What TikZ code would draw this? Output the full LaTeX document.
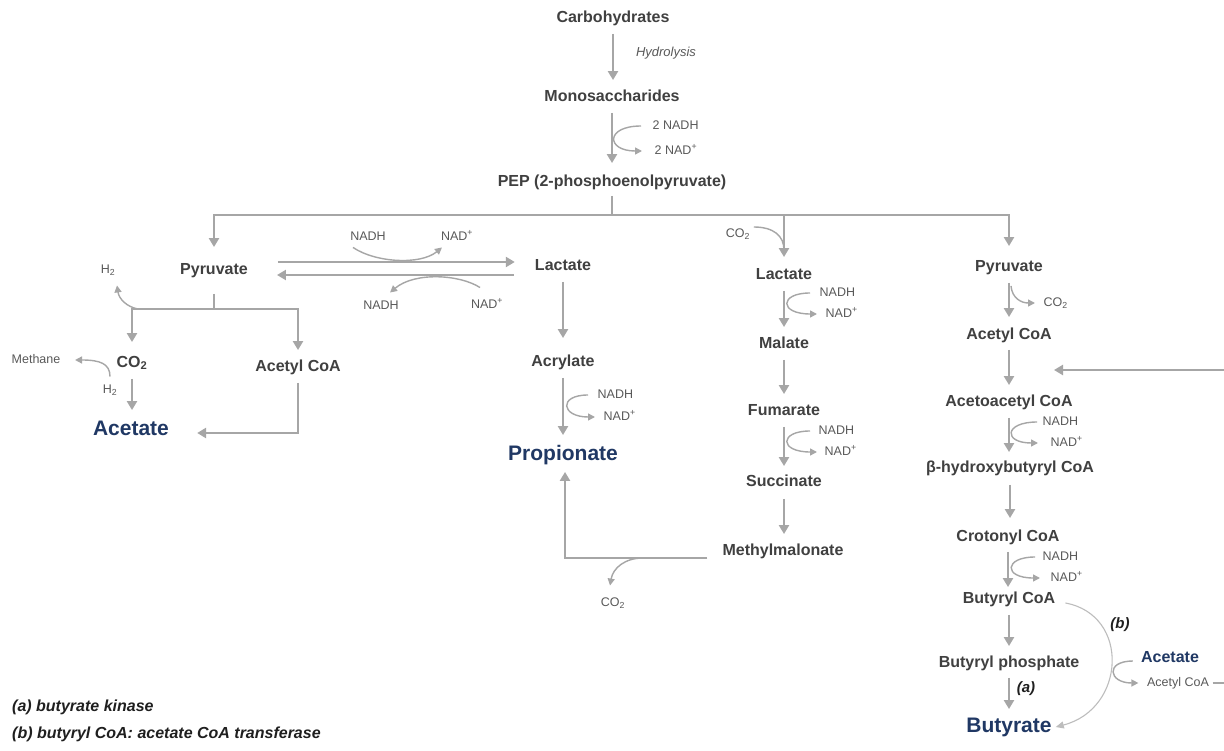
\documentclass[tikz,border=0pt]{standalone}
\usepackage{fontspec}
\setmainfont{Liberation Sans}
\usetikzlibrary{arrows.meta}
\definecolor{txt}{HTML}{404040}
\definecolor{sml}{HTML}{595959}
\definecolor{blu}{HTML}{203864}
\definecolor{arg}{HTML}{A6A6A6}
\definecolor{lig}{HTML}{BDBDBD}
\definecolor{leg}{HTML}{1F1F1F}
\begin{document}
\begin{tikzpicture}[x=1pt,y=-1pt,
 lbl/.style={font=\bfseries\fontsize{16}{16}\selectfont, text=txt, inner sep=0pt, text height=12pt, text depth=3.5pt},
 prod/.style={font=\bfseries\fontsize{21}{21}\selectfont, text=blu, inner sep=0pt, text height=15pt, text depth=4.5pt},
 prods/.style={font=\bfseries\fontsize{16}{16}\selectfont, text=blu, inner sep=0pt, text height=12pt, text depth=3.5pt},
 sm/.style={font=\fontsize{12.5}{12.5}\selectfont, text=sml, inner sep=0.5pt, text height=9pt, text depth=2.5pt, anchor=west},
 smc/.style={font=\fontsize{12.5}{12.5}\selectfont, text=sml, inner sep=0.5pt, text height=9pt, text depth=2.5pt},
 arr/.style={draw=arg, line width=2.4pt, -{Triangle[length=9pt,width=10pt]}, shorten <=8pt, shorten >=9pt},
 ln/.style={draw=arg, line width=2.4pt},
 side/.style={draw=arg, line width=1.4pt, -{Triangle[length=7pt,width=7pt]}},
 thinarc/.style={draw=lig, line width=1.1pt, -{Triangle[length=8pt,width=7pt]}},
 ital/.style={font=\bfseries\itshape\fontsize{15}{15}\selectfont, text=leg, inner sep=0pt},
]
\useasboundingbox (0,0) rectangle (1224,751);
\fill[white] (0,0) rectangle (1224,751);

% ---------- top chain ----------
\node[lbl] (carb) at (613,18) {Carbohydrates};
\node[font=\itshape\fontsize{13}{13}\selectfont, text=sml, inner sep=0pt] (hyd) at (666,53) {Hydrolysis};
\node[lbl] (mono) at (612,97) {Monosaccharides};
\node[lbl] (pep) at (612,182) {PEP (2-phosphoenolpyruvate)};
\node[sm] (n1) at (652,126) {2 NADH};
\node[sm] (d1) at (654,151) {2 NAD\textsuperscript{+}};

\draw[arr] (carb.south) -- (carb.south |- mono.north);
\draw[arr, shorten >=11pt] (mono.south) -- (mono.south |- pep.north);
\draw[side] ([xshift=-11pt]n1.west) .. controls +(-36,0) and +(-36,0) .. ([xshift=-12pt]d1.west);

% ---------- branch line ----------
\coordinate (hm) at (612,215);
\node[lbl] (pyrL) at (214,270) {Pyruvate};
\node[lbl] (lacL) at (563,266) {Lactate};
\node[lbl] (lacM) at (784,275) {Lactate};
\node[lbl] (pyrR) at (1009,267) {Pyruvate};

\draw[ln, shorten <=6pt] (pep.south) -- (hm);
\draw[arr, shorten <=0pt, shorten >=15pt] (hm) -| (pyrL.north);
\draw[arr, shorten <=0pt, shorten >=13pt] (hm) -| (pyrR.north);
\draw[arr, shorten <=0pt, shorten >=10pt] (lacM.north |- hm) -- (lacM.north);

% ---------- left: pyruvate branch ----------
\coordinate (lby) at (0,309);
\node[lbl] (co2L) at (132,363) {CO\textsubscript{2}};
\node[lbl] (acL) at (298,367) {Acetyl CoA};
\node[prod] (acetate) at (131,430) {Acetate};
\node[smc] (h2t) at (108,270) {H\textsubscript{2}};
\node[smc] (h2b) at (110,390) {H\textsubscript{2}};
\node[smc] (meth) at (36,360) {Methane};
\coordinate (h2s) at (138,309);

\draw[ln, shorten <=16pt] (pyrL.south) -- (pyrL.south |- lby);
\draw[arr, shorten <=0pt, shorten >=13pt] (pyrL.south |- lby) -| (co2L.north);
\draw[arr, shorten <=0pt, shorten >=9pt] (pyrL.south |- lby) -| (acL.north);
\draw[arr, shorten >=10pt] (co2L.south) -- (co2L.south |- acetate.north);
\draw[arr, shorten <=8pt, shorten >=0pt] (acL.south) |- ([xshift=28pt,yshift=-3pt]acetate.east);
\draw[side] (h2s) .. controls (127,307) and (119,299) .. ([xshift=9pt,yshift=-9pt]h2t.south);
\draw[side, shorten <=7pt, shorten >=14pt] (h2b.north) .. controls +(0,-20) and +(39,0) .. (meth.east);

% ---------- pyruvate <-> lactate ----------
\node[smc] (nt) at (368,237) {NADH};
\node[smc] (dt) at (457,237) {NAD\textsuperscript{+}};
\node[smc] (nb) at (381,306) {NADH};
\node[smc] (db) at (487,305) {NAD\textsuperscript{+}};
\draw[arr, shorten <=0pt, shorten >=0pt] ([xshift=30pt,yshift=8pt]pyrL.east) -- ([xshift=-20pt,yshift=4pt]lacL.west);
\draw[arr, shorten <=0pt, shorten >=0pt] ([xshift=-21pt,yshift=-9pt]lacL.west) -- ([xshift=29pt,yshift=-5pt]pyrL.east);
\draw[side] ([xshift=-15pt,yshift=-4pt]nt.south) .. controls +(22,15) and +(-22,18) .. ([xshift=-15pt,yshift=-4pt]dt.south);
\draw[side] ([xshift=-7pt,yshift=11pt]db.north) .. controls +(-20,-13) and +(25,-21) .. ([xshift=9pt,yshift=7pt]nb.north);

% ---------- acrylate pathway ----------
\node[lbl] (acry) at (563,362) {Acrylate};
\node[prod] (prop) at (563,455) {Propionate};
\node[sm] (n2) at (597,395) {NADH};
\node[sm] (d2) at (603,417) {NAD\textsuperscript{+}};
\draw[arr, shorten >=16pt] (lacL.south) -- (lacL.south |- acry.north);
\draw[arr, shorten >=10pt] (acry.south) -- (acry.south |- prop.north);
\draw[side] ([xshift=-9pt]n2.west) .. controls +(-30,0) and +(-34,0) .. ([xshift=-8pt]d2.west);

% ---------- succinate pathway ----------
\node[smc] (co2m) at (738,234) {CO\textsubscript{2}};
\coordinate (cm) at (784,250);
\draw[draw=arg, line width=1.4pt] ([xshift=3pt,yshift=7pt]co2m.east) .. controls +(20,0) and +(0,-14) .. (cm);
\node[lbl] (mal) at (784,344) {Malate};
\node[lbl] (fum) at (784,411) {Fumarate};
\node[lbl] (suc) at (784,482) {Succinate};
\node[lbl] (mm) at (783,551) {Methylmalonate};
\node[sm] (n3) at (819,293) {NADH};
\node[sm] (d3) at (825,314) {NAD\textsuperscript{+}};
\node[sm] (n4) at (818,431) {NADH};
\node[sm] (d4) at (824,452) {NAD\textsuperscript{+}};
\draw[arr] (lacM.south) -- (lacM.south |- mal.north);
\draw[arr] (mal.south) -- (mal.south |- fum.north);
\draw[arr, shorten >=8pt] (fum.south) -- (fum.south |- suc.north);
\draw[arr, shorten <=9pt] (suc.south) -- (suc.south |- mm.north);
\draw[side] ([xshift=-9pt]n3.west) .. controls +(-31,0) and +(-38,0) .. ([xshift=-8pt]d3.west);
\draw[side] ([xshift=-8pt]n4.west) .. controls +(-31,0) and +(-38,0) .. ([xshift=-7pt]d4.west);
\draw[arr, shorten <=0pt, shorten >=7pt] ([xshift=-15pt,yshift=-7pt]mm.west) -| ([xshift=2pt]prop.south);
\node[smc] (co2b) at (613,603) {CO\textsubscript{2}};
\coordinate (cb) at (643,558);
\draw[side] (cb) .. controls (625,558) and (613,568) .. ([xshift=-3pt,yshift=11pt]co2b.north);

% ---------- butyrate pathway ----------
\node[sm] (co2r) at (1043,303) {CO\textsubscript{2}};
\node[lbl] (acR) at (1009,335) {Acetyl CoA};
\node[lbl] (aac) at (1009,402) {Acetoacetyl CoA};
\node[lbl] (bhb) at (1010,468) {β-hydroxybutyryl CoA};
\node[lbl] (cro) at (1008,537) {Crotonyl CoA};
\node[lbl] (bcoa) at (1009,599) {Butyryl CoA};
\node[lbl] (bp) at (1009,663) {Butyryl phosphate};
\node[prod] (but) at (1009,727) {Butyrate};
\node[sm] (n5) at (1042,422) {NADH};
\node[sm] (d5) at (1050,443) {NAD\textsuperscript{+}};
\node[sm] (n6) at (1042,557) {NADH};
\node[sm] (d6) at (1050,578) {NAD\textsuperscript{+}};
\node[ital] (alab) at (1026,689) {(a)};
\node[ital] (blab) at (1120,625) {(b)};
\node[prods] (acetR) at (1170,658) {Acetate};
\node[smc] (acsm) at (1178,683) {Acetyl CoA};
\coordinate (jn) at (1054,370);

\draw[arr, shorten >=10pt] (pyrR.south) -- (pyrR.south |- acR.north);
\draw[side] ([xshift=2pt,yshift=-11pt]pyrR.south) .. controls +(1,12) and +(-14,0) .. ([xshift=-8pt]co2r.west);
\draw[arr, shorten <=7pt] (acR.south) -- (acR.south |- aac.north);
\draw[arr, shorten >=8pt] (aac.south) -- (aac.south |- bhb.north);
\draw[arr, shorten <=9pt, shorten >=11pt] (bhb.south) -- (bhb.south |- cro.north);
\draw[arr, shorten <=7pt, shorten >=4pt] (cro.south) -- (cro.south |- bcoa.north);
\draw[arr] (bcoa.south) -- (bcoa.south |- bp.north);
\draw[arr, shorten <=7pt, shorten >=8pt] (bp.south) -- (bp.south |- but.north);
\draw[side] ([xshift=-5pt]n5.west) .. controls +(-33,0) and +(-35,0) .. ([xshift=-12pt]d5.west);
\draw[side] ([xshift=-7pt]n6.west) .. controls +(-31,0) and +(-37,0) .. ([xshift=-10pt]d6.west);
\draw[thinarc] ([xshift=10pt,yshift=-4pt]bcoa.east) .. controls +(65,12) and +(70,-18) .. ([xshift=4pt]but.east);
\draw[side] ([xshift=-8pt,yshift=-3pt]acetR.west) .. controls +(-28,0) and +(-30,0) .. ([xshift=-8pt]acsm.west);
\draw[arr, shorten <=3pt, shorten >=0pt] (acsm.east) -- ++(30,0) |- (jn);

% ---------- legend ----------
\node[ital, font=\bfseries\itshape\fontsize{16}{16}\selectfont, anchor=west] (la) at (12,707) {(a) butyrate kinase};
\node[ital, font=\bfseries\itshape\fontsize{16}{16}\selectfont, anchor=west] (lb) at (12,734) {(b) butyryl CoA: acetate CoA transferase};
\end{tikzpicture}
\end{document}
